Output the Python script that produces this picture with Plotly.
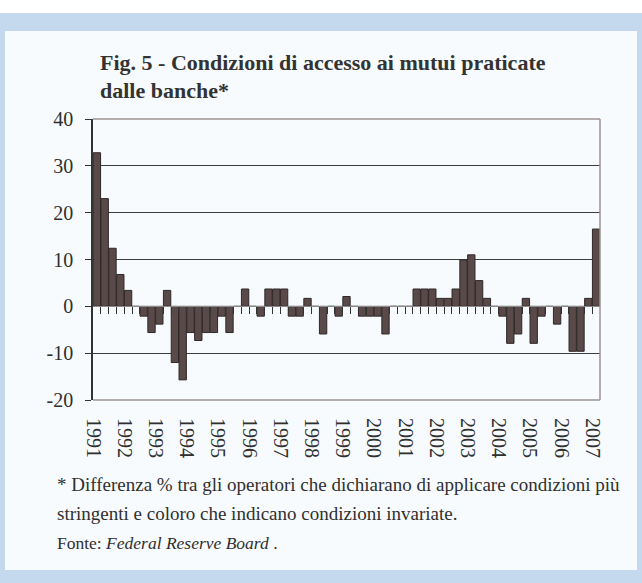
import plotly.graph_objects as go

# Quarterly survey balance, 1991 Q1 - 2007 Q1
years = [str(y) for y in range(1991, 2008)]
values = [
    32.8, 23.0, 12.4, 6.8,      # 1991
    3.4, 0.0, -2.1, -5.6,       # 1992
    -3.8, 3.4, -12.0, -15.7,    # 1993
    -5.6, -7.3, -5.6, -5.6,     # 1994
    -2.1, -5.6, 0.0, 3.7,       # 1995
    0.0, -2.1, 3.7, 3.7,        # 1996
    3.7, -2.1, -2.1, 1.7,       # 1997
    0.0, -5.9, 0.0, -2.1,       # 1998
    2.1, 0.0, -2.1, -2.1,       # 1999
    -2.1, -5.9, 0.0, 0.0,       # 2000
    0.0, 3.7, 3.7, 3.7,         # 2001
    1.7, 1.7, 3.7, 9.9,         # 2002
    11.0, 5.5, 1.7, 0.0,        # 2003
    -2.1, -7.9, -5.9, 1.7,      # 2004
    -7.9, -2.1, 0.0, -3.8,      # 2005
    0.0, -9.6, -9.6, 1.7,       # 2006
    16.5,                       # 2007
]
y_ticks = [-20, -10, 0, 10, 20, 30, 40]
y_labels = [str(v) for v in y_ticks]

title_lines = ["Fig. 5 - Condizioni di accesso ai mutui praticate", "dalle banche*"]
note_lines = [
    "* Differenza % tra gli operatori che dichiarano di applicare condizioni più",
    "stringenti e coloro che indicano condizioni invariate.",
    "Fonte: <i>Federal Reserve Board</i> .",
]
note_sizes = [19, 19, 17.5]

W, H = 642, 583
ML, MR, MT, MB = 93, 42, 119, 183
PW, PH = W - ML - MR, H - MT - MB


def px_x(px):
    return (px - ML) / PW


def px_y(py):
    return (H - MB - py) / PH


idx = list(range(len(values)))
year_pos = [4 * k - 0.5 for k in range(len(years))]
slot_edges = [i + 0.5 for i in range(len(values) - 1)]

TXT = "#2f2f2f"
SERIF = "Liberation Serif"

fig = go.Figure()
fig.add_trace(go.Bar(
    x=idx, y=values,
    marker=dict(color="#5a4949", line=dict(color="#2e2828", width=1)),
    hoverinfo="skip", showlegend=False,
))
# carrier for the zero-line category axis
fig.add_trace(go.Scatter(
    x=[idx[0]], y=[0], xaxis="x2", mode="markers",
    marker=dict(opacity=0), hoverinfo="skip", showlegend=False,
))

shapes = [
    # light blue frame with white strip above
    dict(type="rect", xref="paper", yref="paper", layer="below",
         x0=px_x(0), x1=px_x(W), y0=px_y(H), y1=px_y(13),
         fillcolor="#c5d9ee", line=dict(width=0)),
    # inner panel
    dict(type="rect", xref="paper", yref="paper", layer="below",
         x0=px_x(5), x1=px_x(637), y0=px_y(570), y1=px_y(31),
         fillcolor="#f7fbfd", line=dict(width=0)),
]
border = "#9e9393"
for (x0, y0, x1, y1) in [(0, 1, 1, 1), (1, 0, 1, 1), (0, 0, 1, 0)]:
    shapes.append(dict(type="line", xref="x domain", yref="y domain", layer="above",
                       x0=x0, y0=y0, x1=x1, y1=y1,
                       line=dict(color=border, width=1.5)))

annotations = []
for i, t in enumerate(title_lines):
    annotations.append(dict(
        text=f"<b>{t}</b>", xref="paper", yref="paper", showarrow=False,
        x=px_x(98), y=px_y(62 + 28 * i), xanchor="left", yanchor="middle",
        font=dict(family=SERIF, size=22, color="#333333"),
    ))
for i, (t, s) in enumerate(zip(note_lines, note_sizes)):
    annotations.append(dict(
        text=t, xref="paper", yref="paper", showarrow=False,
        x=px_x(55), y=px_y(484 + 29.5 * i), xanchor="left", yanchor="middle",
        font=dict(family=SERIF, size=s, color=TXT),
    ))

fig.update_layout(
    width=W, height=H,
    margin=dict(l=ML, r=MR, t=MT, b=MB, pad=0),
    paper_bgcolor="white",
    plot_bgcolor="rgba(0,0,0,0)",
    bargap=0.06,
    shapes=shapes,
    annotations=annotations,
    xaxis=dict(
        range=[-0.5, len(values) - 0.5],
        tickmode="array", tickvals=year_pos, ticktext=years,
        tickangle=90, ticks="", showgrid=False, zeroline=False, showline=False,
        tickfont=dict(family=SERIF, size=20, color=TXT),
        ticklabelstandoff=17,
    ),
    xaxis2=dict(
        overlaying="x", matches="x", anchor="free", position=1 / 3, side="bottom",
        tickmode="array", tickvals=slot_edges, showticklabels=False,
        ticks="outside", ticklen=7, tickwidth=1, tickcolor="#333333",
        showline=True, linecolor="#8a8a8a", linewidth=1,
        showgrid=False, zeroline=False,
    ),
    yaxis=dict(
        range=[-20, 40], tickmode="array", tickvals=y_ticks, ticktext=y_labels,
        showgrid=True, gridcolor="#3d3d3d", gridwidth=1, zeroline=False,
        showline=True, linecolor="#333333", linewidth=1.5,
        ticks="outside", ticklen=6, tickcolor="#333333",
        tickfont=dict(family=SERIF, size=20, color=TXT),
        ticklabelstandoff=8,
    ),
)

fig.write_html("out.html")
